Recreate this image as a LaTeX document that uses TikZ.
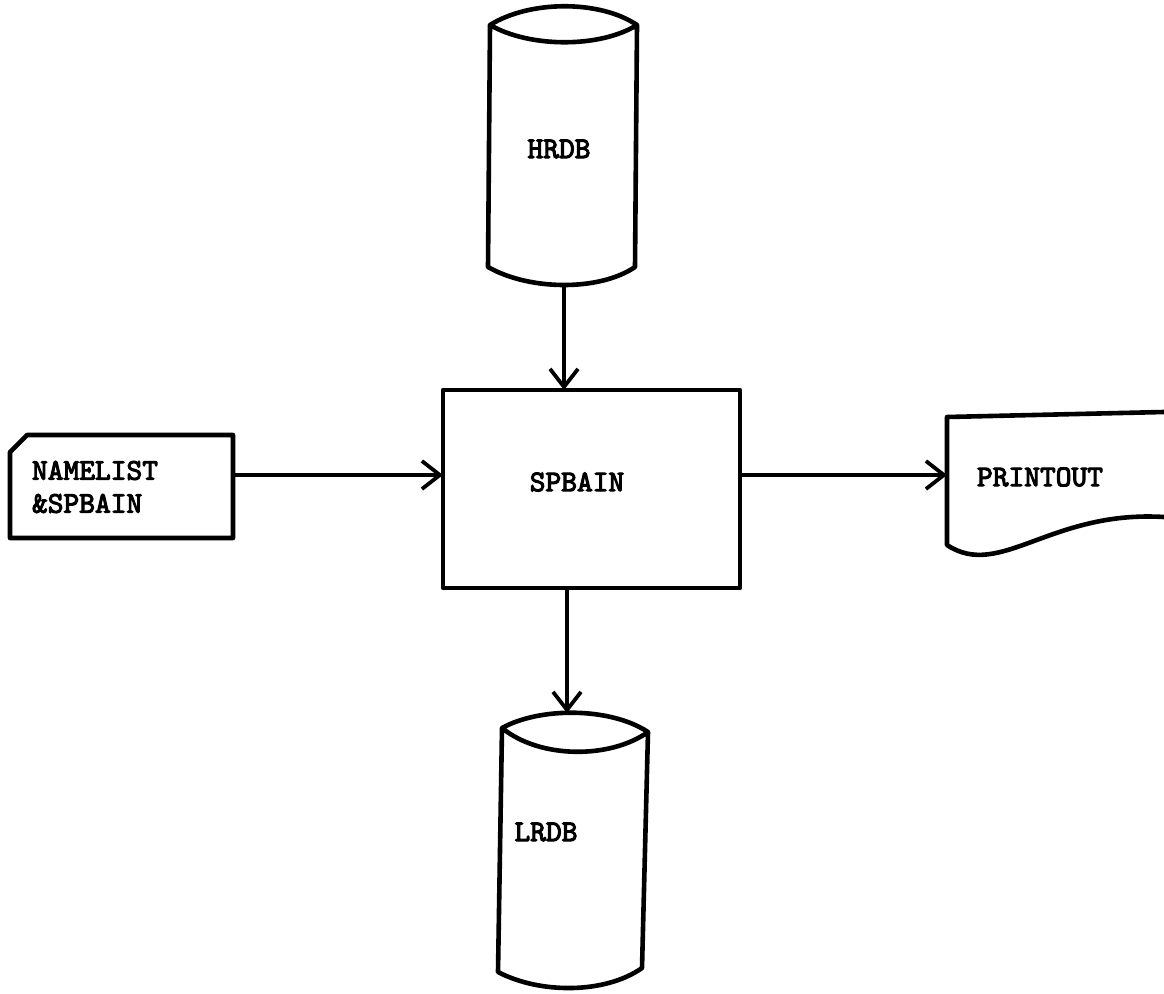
\documentclass[tikz,border=0pt]{standalone}
\usepackage{fontspec}
\newfontfamily\twfont{lmmono10-regular}[Extension=.otf, FakeBold=3.5]
\usetikzlibrary{arrows.meta}
\begin{document}
\begin{tikzpicture}[x=1pt,y=-1pt,
  shape line/.style={line width=4.6pt, line join=round, line cap=round},
  arr/.style={line width=3.4pt, -{Straight Barb[length=18pt,width=28pt,line width=3.8pt]}},
  txt/.style={font=\twfont\fontsize{30}{33}\selectfont, inner sep=0pt, outer sep=0pt},
  procbox/.style={draw, shape line, minimum width=297pt, minimum height=198pt, inner sep=0pt, outer sep=0pt}]
\useasboundingbox (0,0) rectangle (1164,993);
% HRDB cylinder
\draw[shape line] (490,25) .. controls (530,0) and (600,0) .. (637,25)
  .. controls (600,48) and (530,48) .. (490,25) -- (488,267)
  .. controls (530,291) and (600,291) .. (635,267) -- (637,25);
\node[txt] (hrdb) at (559,149) {HRDB};
\coordinate (hrdbB) at (564,285);
% process box
\node[procbox] (sp) at (591.5,489) {};
\node[txt] (splabel) at (577,482) {SPBAIN};
% card
\draw[shape line] (10,452) -- (27,435) -- (233,435) -- (233,538) -- (10,538) -- cycle;
\node[txt, align=left, anchor=west] (nl) at (32,487) {NAMELIST\\\&SPBAIN};
\coordinate (nlE) at (233,475);
% printout
\draw[shape line] (1164,412) -- (947,417) -- (947,545)
  .. controls (1000,580) and (1050,510) .. (1164,517);
\node[txt] (pr) at (1040,477) {PRINTOUT};
\coordinate (prW) at (947,475);
% LRDB cylinder
\draw[shape line] (502,728) .. controls (540,707) and (610,707) .. (648,732)
  .. controls (610,759) and (540,759) .. (502,728) -- (498,972)
  .. controls (540,994) and (605,994) .. (642,968) -- (648,732);
\node[txt] (lrdb) at (546,832) {LRDB};
\coordinate (lrdbT) at (567,713);
% connectors
\draw[arr] (hrdbB) -- (hrdbB |- sp.north);
\draw[arr] (nlE) -- (sp.west |- nlE);
\draw[arr] (sp.east |- prW) -- (prW);
\draw[arr] (sp.south -| lrdbT) -- (lrdbT);
\end{tikzpicture}
\end{document}
